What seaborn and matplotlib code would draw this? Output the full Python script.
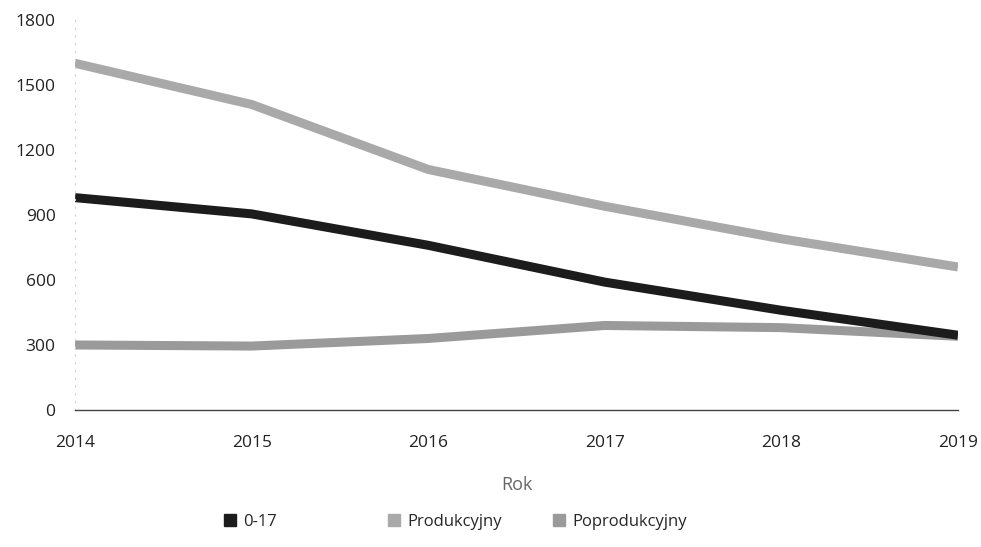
import matplotlib
matplotlib.use("Agg")
import matplotlib.pyplot as plt
from matplotlib.lines import Line2D
import pandas as pd
import seaborn as sns

# --- data ---
years = [2014, 2015, 2016, 2017, 2018, 2019]
age_0_17 = [980, 905, 760, 590, 460, 345]
produkcyjny = [1600, 1410, 1110, 940, 790, 660]
poprodukcyjny = [300, 295, 330, 390, 380, 340]

series_names = ["0-17", "Produkcyjny", "Poprodukcyjny"]
colors = {"0-17": "#1c1c1c", "Produkcyjny": "#a9a9a9", "Poprodukcyjny": "#9a9a9a"}

df = pd.DataFrame({
    "Rok": years * 3,
    "value": age_0_17 + produkcyjny + poprodukcyjny,
    "grupa": [n for n in series_names for _ in years],
})

sns.set_theme(style="white")
plt.rcParams["font.family"] = ["Open Sans", "DejaVu Sans"]

fig = plt.figure(figsize=(9.81, 5.47), dpi=100)
ax = fig.add_axes([0.0765, 0.2505, 0.9, 0.713])

# draw lighter series first so the black line stays on top where they meet
for name in ["Produkcyjny", "Poprodukcyjny", "0-17"]:
    sub = df[df["grupa"] == name]
    sns.lineplot(data=sub, x="Rok", y="value", color=colors[name],
                 linewidth=6.5, ax=ax, legend=False, solid_capstyle="butt")

ax.set_xlim(2014, 2019)
ax.set_ylim(0, 1800)
ax.set_yticks([0, 300, 600, 900, 1200, 1500, 1800])
ax.set_xticks(years)
ax.tick_params(axis="both", labelsize=12.5, colors="#222222", length=0)
ax.tick_params(axis="y", pad=14)
ax.tick_params(axis="x", pad=18)

for side in ["top", "right"]:
    ax.spines[side].set_visible(False)
ax.spines["left"].set_color("#cfcfcf")
ax.spines["left"].set_linestyle((0, (1, 6)))
ax.spines["left"].set_linewidth(0.8)
ax.spines["bottom"].set_color("#444444")
ax.spines["bottom"].set_linewidth(1.0)

ax.set_xlabel("Rok", fontsize=13, color="#666666", labelpad=18)
ax.set_ylabel("")

# one legend entry per box so the entries sit evenly spaced like the reference
legend_x = [0.226, 0.393, 0.561]
for name, xpos in zip(series_names, legend_x):
    h = Line2D([0], [0], marker="s", linestyle="none", markersize=8,
               markerfacecolor=colors[name], markeredgecolor=colors[name])
    fig.legend([h], [name], loc="center left", bbox_to_anchor=(xpos, 0.046),
               frameon=False, fontsize=12, handlelength=1.0,
               handletextpad=0.3, borderpad=0, borderaxespad=0)

fig.savefig("out.png", dpi=100)
